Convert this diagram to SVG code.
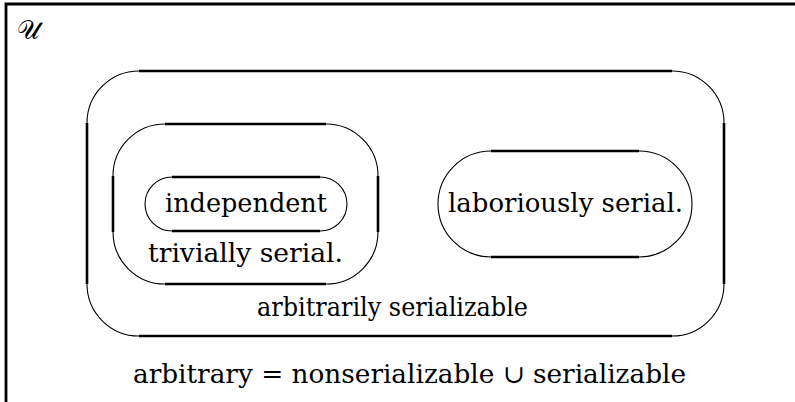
<svg xmlns="http://www.w3.org/2000/svg" width="795" height="402" viewBox="0 0 795 402">
<style>
.arc{fill:none;stroke:#000;stroke-width:1.1}
.ln{fill:none;stroke:#000;stroke-width:2.6}
.frame{fill:none;stroke:#000;stroke-width:2.8}
.t{font-size:25.5px;fill:#000}
</style>
<rect width="795" height="402" fill="#fff"/>
<g font-family="DejaVu Serif, serif">
<g id="universe">
<path class="frame" d="M6 402 V4 H795"/>
<text class="t" x="17" y="39" font-size="44">𝒰</text>
</g>
<g id="arbitrarily-serializable">
<path class="arc" d="M87 123 A52 52 0 0 1 139 71 M672 71 A52 52 0 0 1 724 123 M724 284 A52 52 0 0 1 672 336 M139 336 A52 52 0 0 1 87 284"/>
<path class="ln" d="M139 71 H672 M724 123 V284 M672 336 H139 M87 284 V123"/>
<text class="t" x="257" y="316" textLength="271" lengthAdjust="spacingAndGlyphs">arbitrarily serializable</text>
</g>
<g id="trivially-serial">
<path class="arc" d="M113 176 A52 52 0 0 1 165 124 M326 124 A52 52 0 0 1 378 176 M378 232 A52 52 0 0 1 326 284 M165 284 A52 52 0 0 1 113 232"/>
<path class="ln" d="M165 124 H326 M378 176 V232 M326 284 H165 M113 232 V176"/>
<text class="t" x="148" y="262" textLength="195" lengthAdjust="spacingAndGlyphs">trivially serial.</text>
</g>
<g id="independent">
<path class="arc" d="M172 231 A27 27 0 0 1 172 177 M320 177 A27 27 0 0 1 320 231"/>
<path class="ln" d="M172 177 H320 M320 231 H172"/>
<text class="t" x="165" y="212" textLength="162" lengthAdjust="spacingAndGlyphs">independent</text>
</g>
<g id="laboriously-serial">
<path class="arc" d="M491 257 A53 53 0 0 1 491 151 M639 151 A53 53 0 0 1 639 257"/>
<path class="ln" d="M491 151 H639 M639 257 H491"/>
<text class="t" x="448" y="212" textLength="235" lengthAdjust="spacingAndGlyphs">laboriously serial.</text>
</g>
<g id="caption">
<text class="t" x="133" y="383" textLength="553" lengthAdjust="spacingAndGlyphs">arbitrary = nonserializable ∪ serializable</text>
</g>
</g>
<g id="connectors"></g>
</svg>
